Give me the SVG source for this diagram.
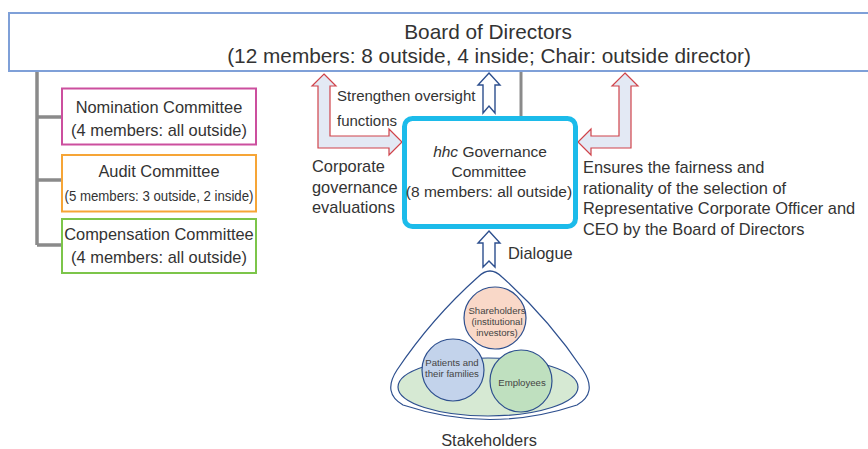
<svg xmlns="http://www.w3.org/2000/svg" width="868" height="449" viewBox="0 0 868 449">
<style>
text{font-family:"Liberation Sans",Arial,sans-serif;fill:#333}
.c{text-anchor:middle}
.t16{font-size:16.4px}
.t15{font-size:15px}
.t155{font-size:15.5px}
.small{font-size:9.6px;fill:#444}
.tree{stroke:#8a8a8a;stroke-width:3.5;fill:none}
.red{fill:#e3e9f4;stroke:#d0434a;stroke-width:1.2}
.blue{fill:#fff;stroke:#2d4f8e;stroke-width:1.4}
.sk{stroke:#2d4f8e;stroke-width:1.2}
</style>
<rect width="868" height="449" fill="#fff"/>
<g id="connectors">
  <path class="tree" d="M37,71 V245 M37,117 H62 M37,180 H62 M37,245 H62"/>
  <line x1="521" y1="71" x2="521" y2="117" stroke="#8a8a8a" stroke-width="3"/>
  <polygon class="red" points="324,74 336,86 330,86 330,136 389,136 389,129 402,142 389,155 389,148 318,148 318,86 312,86"/>
  <polygon class="red" points="625,73 638,86 631,86 631,148 591,148 591,155 578,142 591,129 591,136 619,136 619,86 612,86"/>
  <polygon class="blue" points="489,73 500,85 495,85 495,113 489,106 483,113 483,85 478,85"/>
  <polygon class="blue" points="489,231 500,243 495,243 495,267 489,261 483,267 483,243 478,243"/>
  <text class="t15" x="337" y="101">Strengthen oversight</text>
  <text class="t15" x="337" y="126">functions</text>
  <text class="t16" x="312" y="172">Corporate</text>
  <text class="t16" x="312" y="193">governance</text>
  <text class="t16" x="312" y="213">evaluations</text>
  <text class="t16" x="583" y="173">Ensures the fairness and</text>
  <text class="t16" x="583" y="193.5">rationality of the selection of</text>
  <text class="t16" x="583" y="214">Representative Corporate Officer and</text>
  <text class="t16" x="583" y="234.5">CEO by the Board of Directors</text>
  <text class="t16" x="508" y="259">Dialogue</text>
</g>
<g id="board">
  <rect x="9" y="13" width="880" height="58" fill="#fff" stroke="#7fa0d8" stroke-width="2"/>
  <text class="c" x="488" y="39" font-size="20.8">Board of Directors</text>
  <text class="c" x="489" y="63" font-size="20.8">(12 members: 8 outside, 4 inside; Chair: outside director)</text>
</g>
<g id="nomination">
  <rect x="62" y="88.5" width="194" height="56" fill="#fff" stroke="#cc4f9e" stroke-width="2"/>
  <text class="c t16" x="159" y="113">Nomination Committee</text>
  <text class="c t16" x="159" y="136">(4 members: all outside)</text>
</g>
<g id="audit">
  <rect x="62" y="155" width="194" height="56.5" fill="#fff" stroke="#f6a536" stroke-width="2"/>
  <text class="c t16" x="159" y="177">Audit Committee</text>
  <text class="c" x="159" y="200.5" font-size="14" textLength="189" lengthAdjust="spacingAndGlyphs">(5 members: 3 outside, 2 inside)</text>
</g>
<g id="compensation">
  <rect x="62" y="219" width="194" height="54" fill="#fff" stroke="#7cc54a" stroke-width="2"/>
  <text class="c t16" x="159" y="240">Compensation Committee</text>
  <text class="c t16" x="159" y="263">(4 members: all outside)</text>
</g>
<g id="hhc">
  <rect x="404.5" y="118.5" width="171" height="108" rx="8" fill="#fff" stroke="#1cbbea" stroke-width="5"/>
  <text class="c t155" x="490" y="157"><tspan font-style="italic">hhc</tspan> Governance</text>
  <text class="c t155" x="489" y="177">Committee</text>
  <text class="c t155" x="489" y="197">(8 members: all outside)</text>
</g>
<g id="stakeholders">
  <path d="M478,277 Q490,265 502,277 Q548,318 583,370 Q598,393 577,405 Q490,434 403,405 Q382,393 397,370 Q432,318 478,277 Z" fill="#fff" class="sk"/>
  <ellipse cx="488" cy="387" rx="90" ry="29" fill="#d6e9d3" class="sk"/>
  <circle cx="495" cy="318" r="31" fill="#f9d8c8" class="sk"/>
  <circle cx="453" cy="370" r="31" fill="#c3d3eb" class="sk"/>
  <circle cx="521" cy="381" r="31" fill="#bfe0bf" class="sk"/>
  <text class="c small" x="497" y="314">Shareholders</text>
  <text class="c small" x="497" y="325">(institutional</text>
  <text class="c small" x="497" y="336">investors)</text>
  <text class="c small" x="452" y="366">Patients and</text>
  <text class="c small" x="452" y="377">their families</text>
  <text class="c small" x="522" y="386">Employees</text>
  <text class="c t16" x="489" y="446">Stakeholders</text>
</g>
</svg>
